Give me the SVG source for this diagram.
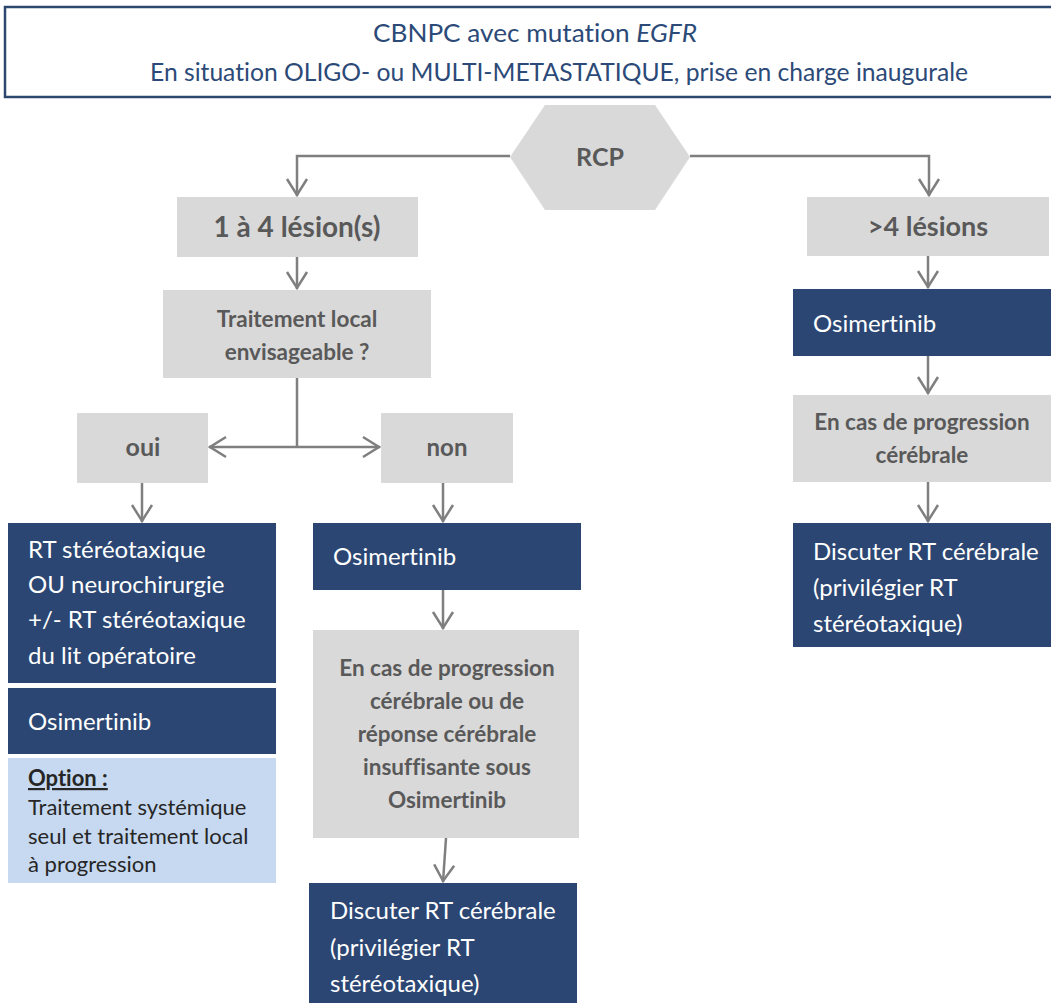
<svg xmlns="http://www.w3.org/2000/svg" width="1051" height="1003" viewBox="0 0 1051 1003">
<style>
text{font-family:"Lato","Liberation Sans",sans-serif;font-variant-ligatures:none;font-feature-settings:"liga" 0}
.g{fill:#d9d9d9}
.b{fill:#2b4672}
.lb{fill:#c6d9f0}
.gt{fill:#595959;font-weight:bold;text-anchor:middle}
.wt{fill:#ffffff;font-size:24px}
.ht{fill:#2c4a78;font-size:25px;text-anchor:middle}
.ot{fill:#262626;font-size:22px}
.c{fill:none;stroke:#7f7f7f;stroke-width:2.5;marker-end:url(#ah)}
.cn{fill:none;stroke:#7f7f7f;stroke-width:2.5}
</style>
<defs>
<marker id="ah" markerUnits="userSpaceOnUse" markerWidth="26" markerHeight="26" viewBox="-22 -13 26 26" refX="0" refY="0" orient="auto">
<path d="M-17,-10 L-1,0 L-17,10" fill="none" stroke="#7f7f7f" stroke-width="2.5"/>
</marker>
</defs>
<rect width="1051" height="1003" fill="#ffffff"/>
<g id="header">
<path d="M1060,7 H5 V97 H1060" fill="#ffffff" stroke="#2c4770" stroke-width="2.5"/>
<text class="ht" x="535" y="42" textLength="324" lengthAdjust="spacingAndGlyphs">CBNPC avec mutation <tspan font-style="italic">EGFR</tspan></text>
<text class="ht" x="559" y="81" textLength="818" lengthAdjust="spacingAndGlyphs">En situation OLIGO- ou MULTI-METASTATIQUE, prise en charge inaugurale</text>
</g>
<g id="connectors">
<path class="c" d="M510,156 H297 V196"/>
<path class="c" d="M690,156 H929 V196"/>
<path class="c" d="M297,257 V289"/>
<path class="cn" d="M297,378 V447"/>
<path class="c" d="M297,447 H209"/>
<path class="c" d="M297,447 H380"/>
<path class="c" d="M142,483 V522"/>
<path class="c" d="M443,483 V522"/>
<path class="c" d="M443,590 V629"/>
<path class="c" d="M446,838 L443,882"/>
<path class="c" d="M928,256 V288"/>
<path class="c" d="M928,356 V394"/>
<path class="c" d="M928,482 V522"/>
</g>
<g id="rcp">
<polygon class="g" points="510,157 545,105 655,105 690,157 655,210 545,210"/>
<text class="gt" x="600" y="166" font-size="25">RCP</text>
</g>
<g id="n14">
<rect class="g" x="177" y="197" width="241" height="60"/>
<text class="gt" x="297" y="237" font-size="28">1 à 4 lésion(s)</text>
</g>
<g id="n4plus">
<rect class="g" x="807" y="197" width="242" height="59"/>
<text class="gt" x="928" y="236" font-size="27">&gt;4 lésions</text>
</g>
<g id="traitement">
<rect class="g" x="163" y="290" width="268" height="88"/>
<text class="gt" x="297" y="327" font-size="22.5">Traitement local</text>
<text class="gt" x="297" y="360" font-size="22.5">envisageable ?</text>
</g>
<g id="oui">
<rect class="g" x="77" y="413" width="131" height="70"/>
<text class="gt" x="143" y="456" font-size="25">oui</text>
</g>
<g id="non">
<rect class="g" x="381" y="413" width="132" height="70"/>
<text class="gt" x="447" y="456" font-size="24">non</text>
</g>
<g id="rt">
<rect class="b" x="8" y="523" width="268" height="160"/>
<text class="wt" x="28" y="558">RT stéréotaxique</text>
<text class="wt" x="28" y="593">OU neurochirurgie</text>
<text class="wt" x="28" y="628">+/- RT stéréotaxique</text>
<text class="wt" x="28" y="664">du lit opératoire</text>
</g>
<g id="osiLeft">
<rect class="b" x="8" y="688" width="268" height="66"/>
<text class="wt" x="28" y="730">Osimertinib</text>
</g>
<g id="option">
<rect class="lb" x="8" y="758" width="268" height="125"/>
<text class="ot" x="28" y="786" font-weight="bold" text-decoration="underline">Option :</text>
<text class="ot" x="28" y="815">Traitement systémique</text>
<text class="ot" x="28" y="844">seul et traitement local</text>
<text class="ot" x="28" y="872">à progression</text>
</g>
<g id="osiMid">
<rect class="b" x="313" y="523" width="268" height="67"/>
<text class="wt" x="333" y="565">Osimertinib</text>
</g>
<g id="progMid">
<rect class="g" x="313" y="630" width="266" height="208"/>
<text class="gt" x="447" y="676" font-size="22.5">En cas de progression</text>
<text class="gt" x="447" y="709" font-size="22.5">cérébrale ou de</text>
<text class="gt" x="447" y="742" font-size="22.5">réponse cérébrale</text>
<text class="gt" x="447" y="775" font-size="22.5">insuffisante sous</text>
<text class="gt" x="447" y="808" font-size="22.5">Osimertinib</text>
</g>
<g id="discMid">
<rect class="b" x="309" y="883" width="268" height="125"/>
<text class="wt" x="330" y="919">Discuter RT cérébrale</text>
<text class="wt" x="330" y="956">(privilégier RT</text>
<text class="wt" x="330" y="992">stéréotaxique)</text>
</g>
<g id="osiRight">
<rect class="b" x="793" y="289" width="260" height="67"/>
<text class="wt" x="813" y="332">Osimertinib</text>
</g>
<g id="progRight">
<rect class="g" x="793" y="395" width="260" height="87"/>
<text class="gt" x="922" y="430" font-size="22.5">En cas de progression</text>
<text class="gt" x="922" y="463" font-size="22.5">cérébrale</text>
</g>
<g id="discRight">
<rect class="b" x="793" y="523" width="260" height="124"/>
<text class="wt" x="813" y="560">Discuter RT cérébrale</text>
<text class="wt" x="813" y="596">(privilégier RT</text>
<text class="wt" x="813" y="632">stéréotaxique)</text>
</g>
</svg>
